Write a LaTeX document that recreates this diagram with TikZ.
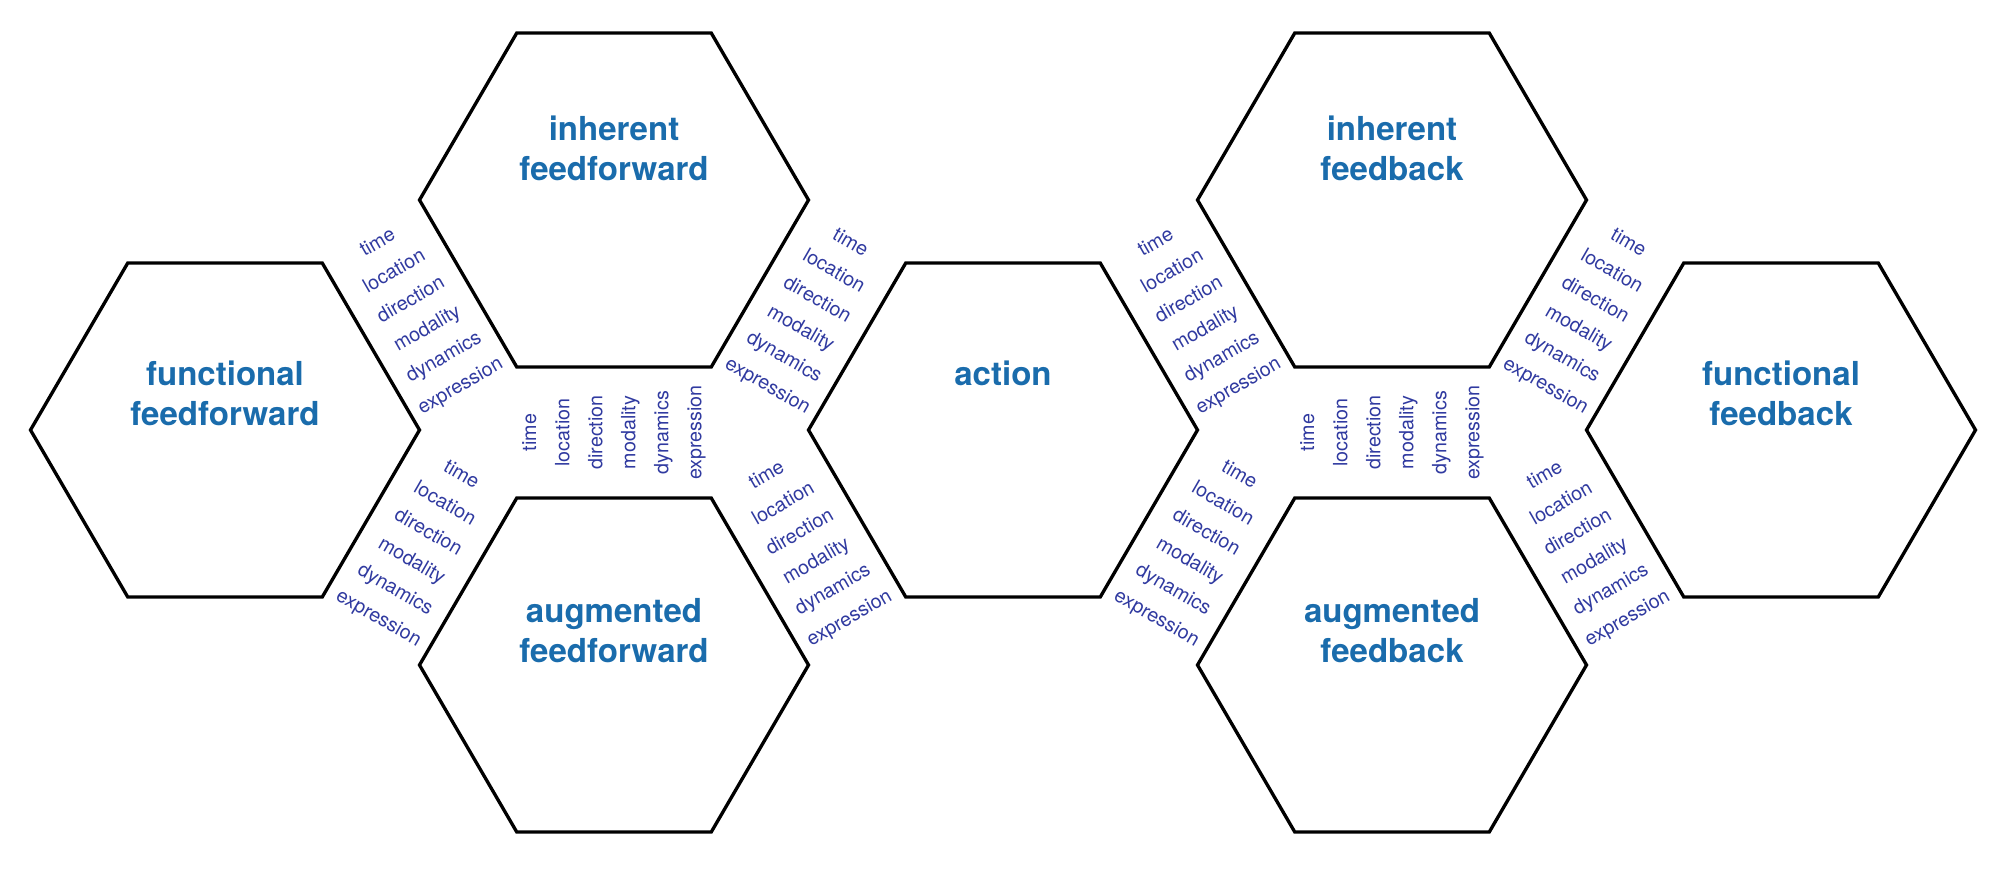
\documentclass[tikz,border=0pt]{standalone}
\usepackage{fontspec}
\setmainfont{TeX Gyre Heros}
\usepackage{tikz}
\definecolor{titleblue}{RGB}{26,108,172}
\definecolor{facetblue}{RGB}{48,58,160}
\newcommand{\facets}{time\\location\\direction\\modality\\dynamics\\expression}
\tikzset{
  hexline/.style={draw=black, line width=0.95pt},
  hexa/.pic={\draw[hexline] (-1.945,0) -- (-0.9725,1.67) -- (0.9725,1.67) -- (1.945,0) -- (0.9725,-1.67) -- (-0.9725,-1.67) -- cycle;},
  hextitle/.style={text=titleblue, align=center, inner sep=0pt,
    font=\fontsize{9.4}{11.4}\selectfont\bfseries},
  facet/.style={text=facetblue, align=center, inner sep=0pt,
    font=\fontsize{5.6}{9.4}\selectfont}}

\begin{document}
\begin{tikzpicture}
  \useasboundingbox (0,0) rectangle (20.16,8.68);
    \coordinate (ffun) at (2.25,4.38);
    \coordinate (iff) at (6.14,6.68);
    \coordinate (aff) at (6.14,2.03);
    \coordinate (act) at (10.03,4.38);
    \coordinate (ifb) at (13.92,6.68);
    \coordinate (afb) at (13.92,2.03);
    \coordinate (fbfun) at (17.81,4.38);
  \pic at (ffun) {hexa};
  \pic at (iff) {hexa};
  \pic at (aff) {hexa};
  \pic at (act) {hexa};
  \pic at (ifb) {hexa};
  \pic at (afb) {hexa};
  \pic at (fbfun) {hexa};
  % titles
  \node[hextitle] (ffunt) at (2.25,4.746) {functional\\feedforward};
  \node[hextitle] (ifft) at (6.14,7.195) {inherent\\feedforward};
  \node[hextitle] (afft) at (6.14,2.374) {augmented\\feedforward};
  \node[hextitle] (actt) at (10.03,4.951) {action};
  \node[hextitle] (ifbt) at (13.92,7.195) {inherent\\feedback};
  \node[hextitle] (afbt) at (13.92,2.374) {augmented\\feedback};
  \node[hextitle] (fbfunt) at (17.81,4.746) {functional\\feedback};
  % facets in the gaps
  \node[facet, rotate=30] (f1) at (4.195,5.53) {\facets};
  \node[facet, rotate=-30] (f2) at (8.085,5.53) {\facets};
  \node[facet, rotate=-30] (f3) at (4.195,3.205) {\facets};
  \node[facet, rotate=30] (f4) at (8.085,3.205) {\facets};
  \node[facet, rotate=90] (f5) at (6.14,4.355) {\facets};
  \node[facet, rotate=30] (f6) at (11.975,5.53) {\facets};
  \node[facet, rotate=-30] (f7) at (15.865,5.53) {\facets};
  \node[facet, rotate=-30] (f8) at (11.975,3.205) {\facets};
  \node[facet, rotate=30] (f9) at (15.865,3.205) {\facets};
  \node[facet, rotate=90] (f10) at (13.92,4.355) {\facets};
\end{tikzpicture}
\end{document}
